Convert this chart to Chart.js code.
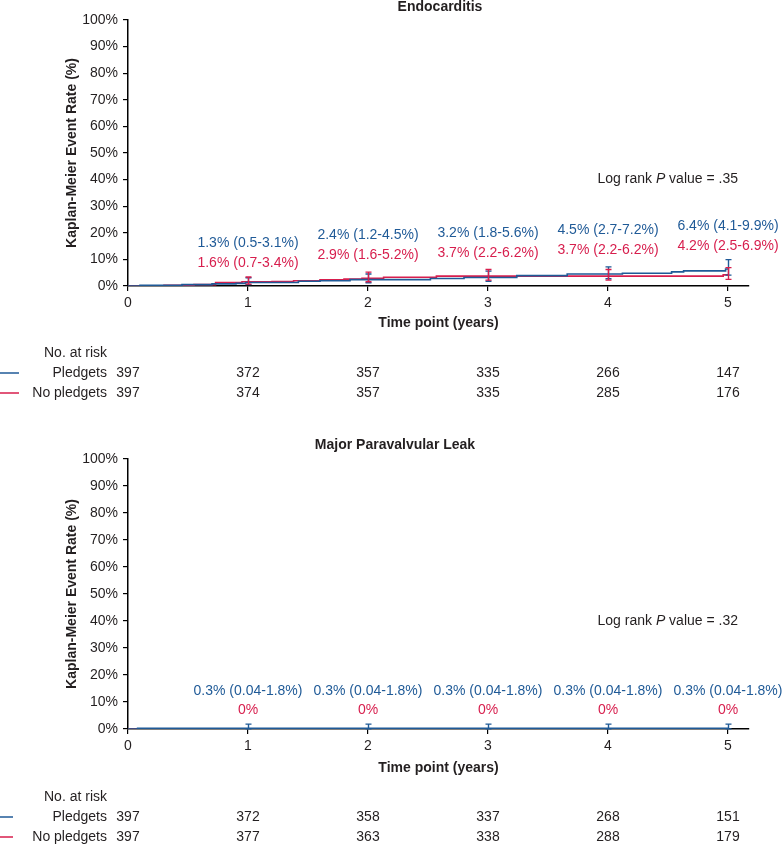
<!DOCTYPE html>
<html>
<head>
<meta charset="utf-8">
<script src="https://cdn.jsdelivr.net/npm/chart.js@4.4.0/dist/chart.umd.min.js"></script>
<style>
  html, body { margin: 0; padding: 0; background: #fff; }
  #wrap { position: relative; width: 783px; height: 845px; }
  canvas { position: absolute; left: 0; }
</style>
</head>
<body>
<div id="wrap">
  <canvas id="c1" width="783" height="420" style="top:0px"></canvas>
  <canvas id="c2" width="783" height="425" style="top:420px"></canvas>
</div>
<script>
// ---------- DATA ----------
const years = [0, 1, 2, 3, 4, 5];
const yTicks = [0, 10, 20, 30, 40, 50, 60, 70, 80, 90, 100];
const seriesNames = ['Pledgets', 'No pledgets'];

// Endocarditis – Kaplan-Meier step curves (time in years, event rate %)
const endoPledgetsT = [0, 0.1, 0.45, 0.7, 0.9, 0.98, 1.42, 1.6, 1.85, 2.52, 2.8, 3.24, 3.66, 4.12, 4.53, 4.63, 4.98, 5.0];
const endoPledgetsY = [0, 0.25, 0.5, 0.8, 1.0, 1.3, 1.8, 2.0, 2.4, 2.8, 3.2, 3.9, 4.5, 4.8, 5.3, 5.7, 6.4, 6.4];
const endoNoPledgetsT = [0, 0.3, 0.55, 0.73, 0.95, 1.2, 1.38, 1.6, 1.8, 1.95, 2.13, 2.57, 4.96, 5.0];
const endoNoPledgetsY = [0, 0.25, 0.5, 1.3, 1.6, 1.7, 2.0, 2.3, 2.6, 2.9, 3.3, 3.7, 4.2, 4.2];
// estimates and 95% CI at years 1..5
const endoPledgetsEst = [1.3, 2.4, 3.2, 4.5, 6.4];
const endoPledgetsLo  = [0.5, 1.2, 1.8, 2.7, 4.1];
const endoPledgetsHi  = [3.1, 4.5, 5.6, 7.2, 9.9];
const endoNoPledgetsEst = [1.6, 2.9, 3.7, 3.7, 4.2];
const endoNoPledgetsLo  = [0.7, 1.6, 2.2, 2.2, 2.5];
const endoNoPledgetsHi  = [3.4, 5.2, 6.2, 6.2, 6.9];
const endoRiskPledgets   = [397, 372, 357, 335, 266, 147];
const endoRiskNoPledgets = [397, 374, 357, 335, 285, 176];
const endoPValue = '.35';

// Major paravalvular leak
const pvlPledgetsT = [0, 0.08, 5.0];
const pvlPledgetsY = [0, 0.3, 0.3];
const pvlNoPledgetsT = [0, 5.0];
const pvlNoPledgetsY = [0, 0];
const pvlPledgetsEst = [0.3, 0.3, 0.3, 0.3, 0.3];
const pvlPledgetsLo  = [0.04, 0.04, 0.04, 0.04, 0.04];
const pvlPledgetsHi  = [1.8, 1.8, 1.8, 1.8, 1.8];
const pvlNoPledgetsEst = [0, 0, 0, 0, 0];
const pvlRiskPledgets   = [397, 372, 358, 337, 268, 151];
const pvlRiskNoPledgets = [397, 377, 363, 338, 288, 179];
const pvlPValue = '.32';

// ---------- STYLE / LAYOUT ----------
const BLUE = '#1f5a97';
const RED = '#d71e4d';
const TXT = '#231f20';
const FONT = '"Liberation Sans", Arial, Helvetica, sans-serif';
// label vertical positions in axis units (%)
const endoBlueLabelAt = [16.2, 19.2, 19.9, 21.0, 22.6];
const endoRedLabelAt  = [8.6, 11.7, 12.4, 13.5, 15.0];
const pvlBlueLabelAt  = [14.1, 14.1, 14.1, 14.1, 14.1];
const pvlRedLabelAt   = [7.0, 7.0, 7.0, 7.0, 7.0];

function pts(t, y) { return t.map((v, i) => ({ x: v, y: y[i] })); }
function ciLabel(est, lo, hi) {
  if (lo == null) return est + '%';
  return est + '% (' + lo + '-' + hi + '%)';
}

function panelPlugin(p) {
  return {
    id: 'panel',
    afterDatasetsDraw(chart) {
      const ctx = chart.ctx, xs = chart.scales.x, ys = chart.scales.y;
      p.bars.forEach(b => {
        ctx.save();
        ctx.strokeStyle = b.color;
        ctx.lineWidth = 1.4;
        years.slice(1).forEach((yr, i) => {
          const x = Math.round(xs.getPixelForValue(yr)) + 0.5;
          const y1 = ys.getPixelForValue(b.lo[i]);
          const y2 = ys.getPixelForValue(b.hi[i]);
          ctx.beginPath();
          ctx.moveTo(x, y1); ctx.lineTo(x, y2);
          ctx.moveTo(x - 3, y1); ctx.lineTo(x + 3, y1);
          ctx.moveTo(x - 3, y2); ctx.lineTo(x + 3, y2);
          ctx.stroke();
        });
        ctx.restore();
      });
    },
    afterDraw(chart) {
      const ctx = chart.ctx, xs = chart.scales.x, ys = chart.scales.y, ca = chart.chartArea;
      ctx.save();
      ctx.textBaseline = 'middle';
      // title
      ctx.fillStyle = TXT;
      ctx.font = 'bold 14px ' + FONT;
      ctx.textAlign = 'center';
      ctx.fillText(p.title, p.titleX, p.titleY);
      // x-axis title
      ctx.fillText('Time point (years)', (ca.left + ca.right) / 2, p.xTitleY);
      // y-axis title
      ctx.save();
      ctx.translate(72, (ca.top + ca.bottom) / 2);
      ctx.rotate(-Math.PI / 2);
      ctx.fillText('Kaplan-Meier Event Rate (%)', 0, 0);
      ctx.restore();
      // estimate labels
      ctx.font = '14px ' + FONT;
      p.labels.forEach(l => {
        ctx.fillStyle = l.color;
        years.slice(1).forEach((yr, i) => {
          const txt = ciLabel(l.est[i], l.lo ? l.lo[i] : null, l.hi ? l.hi[i] : null);
          ctx.fillText(txt, xs.getPixelForValue(yr), ys.getPixelForValue(l.at[i]));
        });
      });
      // log rank
      ctx.fillStyle = TXT;
      ctx.textAlign = 'left';
      const yl = ys.getPixelForValue(40);
      const a = 'Log rank ', b = 'P', c = ' value = ' + p.pval;
      ctx.font = '14px ' + FONT;
      const wa = ctx.measureText(a).width, wc = ctx.measureText(c).width;
      ctx.font = 'italic 14px ' + FONT;
      const wb = ctx.measureText(b).width;
      let x0 = 738 - (wa + wb + wc);
      ctx.font = '14px ' + FONT; ctx.fillText(a, x0, yl);
      ctx.font = 'italic 14px ' + FONT; ctx.fillText(b, x0 + wa, yl);
      ctx.font = '14px ' + FONT; ctx.fillText(c, x0 + wa + wb, yl);
      // risk table
      ctx.font = '14px ' + FONT;
      ctx.fillStyle = TXT;
      ctx.textAlign = 'right';
      ctx.fillText('No. at risk', 107, p.riskY[0]);
      ctx.fillText(seriesNames[0], 107, p.riskY[1]);
      ctx.fillText(seriesNames[1], 107, p.riskY[2]);
      ctx.textAlign = 'center';
      years.forEach((yr, i) => {
        const x = xs.getPixelForValue(yr);
        ctx.fillText(String(p.riskP[i]), x, p.riskY[1]);
        ctx.fillText(String(p.riskN[i]), x, p.riskY[2]);
      });
      ctx.lineWidth = 1.5;
      ctx.strokeStyle = BLUE;
      ctx.beginPath(); ctx.moveTo(0, p.riskY[1]); ctx.lineTo(p.legendLen, p.riskY[1]); ctx.stroke();
      ctx.strokeStyle = RED;
      ctx.beginPath(); ctx.moveTo(0, p.riskY[2]); ctx.lineTo(p.legendLen, p.riskY[2]); ctx.stroke();
      ctx.restore();
    }
  };
}

function makeChart(id, p) {
  return new Chart(document.getElementById(id), {
    type: 'line',
    data: {
      datasets: [
        { label: seriesNames[0], data: pts(p.tP, p.yP), borderColor: BLUE, borderWidth: 1.6, stepped: 'before', pointRadius: 0, fill: false },
        { label: seriesNames[1], data: pts(p.tN, p.yN), borderColor: RED, borderWidth: 1.6, stepped: 'before', pointRadius: 0, fill: false }
      ]
    },
    options: {
      responsive: false,
      animation: false,
      devicePixelRatio: 1,
      layout: { padding: { left: 0, right: 34, top: p.padTop, bottom: p.padBottom } },
      plugins: { legend: { display: false }, tooltip: { enabled: false }, title: { display: false } },
      scales: {
        x: {
          type: 'linear', min: 0, max: 5.175,
          afterFit: s => { s.height = 30; },
          afterBuildTicks: s => { s.ticks = years.map(v => ({ value: v })); },
          ticks: { includeBounds: false, stepSize: 1, padding: 4, color: TXT, font: { family: FONT, size: 14 }, maxRotation: 0 },
          grid: { display: true, drawOnChartArea: false, drawTicks: true, tickLength: 5, color: '#000', lineWidth: 1.2 },
          border: { display: true, color: '#000', width: 1.5 }
        },
        y: {
          type: 'linear', min: 0, max: 100,
          afterFit: s => { s.width = 128; },
          afterBuildTicks: s => { s.ticks = yTicks.map(v => ({ value: v })); },
          ticks: { padding: 5, color: TXT, font: { family: FONT, size: 14 }, callback: v => v + '%' },
          grid: { display: true, drawOnChartArea: false, drawTicks: true, tickLength: 5, color: '#000', lineWidth: 1.2 },
          border: { display: true, color: '#000', width: 1.5 }
        }
      }
    },
    plugins: [panelPlugin(p)]
  });
}

makeChart('c1', {
  tP: endoPledgetsT, yP: endoPledgetsY, tN: endoNoPledgetsT, yN: endoNoPledgetsY,
  padTop: 20, padBottom: 104,
  title: 'Endocarditis', titleX: 440, titleY: 7, xTitleY: 323,
  pval: endoPValue,
  bars: [
    { color: BLUE, lo: endoPledgetsLo, hi: endoPledgetsHi },
    { color: RED, lo: endoNoPledgetsLo, hi: endoNoPledgetsHi }
  ],
  labels: [
    { color: BLUE, est: endoPledgetsEst, lo: endoPledgetsLo, hi: endoPledgetsHi, at: endoBlueLabelAt },
    { color: RED, est: endoNoPledgetsEst, lo: endoNoPledgetsLo, hi: endoNoPledgetsHi, at: endoRedLabelAt }
  ],
  riskP: endoRiskPledgets, riskN: endoRiskNoPledgets, riskY: [353, 373, 393], legendLen: 19
});

makeChart('c2', {
  tP: pvlPledgetsT, yP: pvlPledgetsY, tN: pvlNoPledgetsT, yN: pvlNoPledgetsY,
  padTop: 39, padBottom: 86,
  title: 'Major Paravalvular Leak', titleX: 395, titleY: 25, xTitleY: 348,
  pval: pvlPValue,
  bars: [
    { color: BLUE, lo: pvlPledgetsLo, hi: pvlPledgetsHi }
  ],
  labels: [
    { color: BLUE, est: pvlPledgetsEst, lo: pvlPledgetsLo, hi: pvlPledgetsHi, at: pvlBlueLabelAt },
    { color: RED, est: pvlNoPledgetsEst, lo: null, hi: null, at: pvlRedLabelAt }
  ],
  riskP: pvlRiskPledgets, riskN: pvlRiskNoPledgets, riskY: [377, 397, 417], legendLen: 13
});
</script>
</body>
</html>
